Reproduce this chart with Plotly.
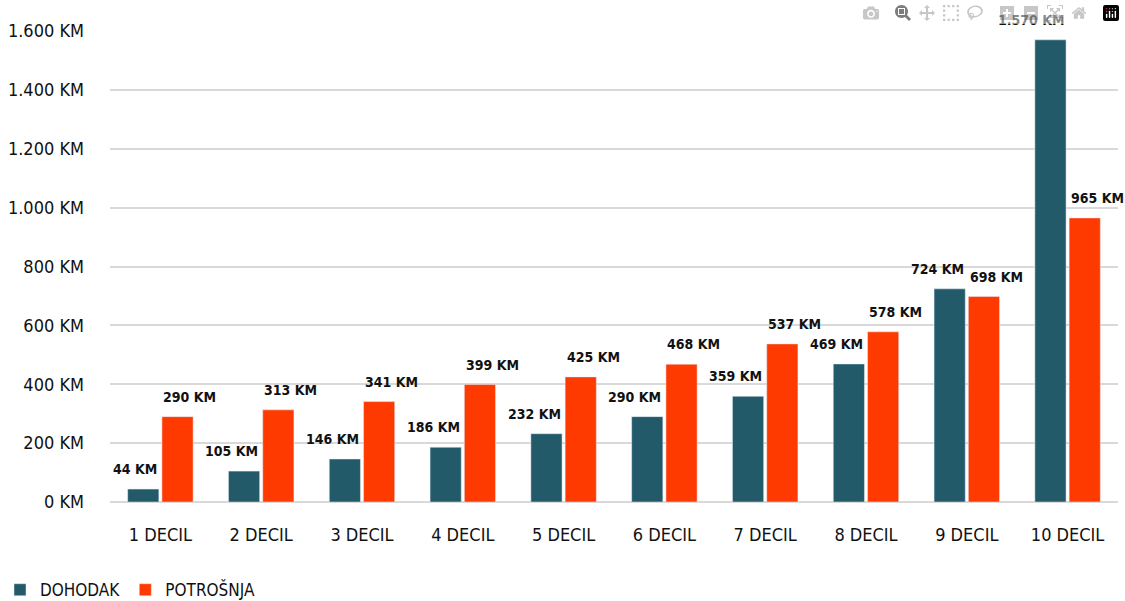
import plotly.graph_objects as go

categories = ["1 DECIL", "2 DECIL", "3 DECIL", "4 DECIL", "5 DECIL",
              "6 DECIL", "7 DECIL", "8 DECIL", "9 DECIL", "10 DECIL"]
dohodak = [44, 105, 146, 186, 232, 290, 359, 469, 724, 1570]
potrosnja = [290, 313, 341, 399, 425, 468, 537, 578, 698, 965]

FONT = "DejaVu Sans Condensed, DejaVu Sans, sans-serif"
TEAL = "#225a69"
ORANGE = "#ff3a00"


def fmt(v):
    return f"{v:,}".replace(",", ".") + " KM"


fig = go.Figure()
fig.add_trace(go.Bar(name="DOHODAK", x=categories, y=dohodak, marker_color=TEAL))
fig.add_trace(go.Bar(name="POTROŠNJA", x=categories, y=potrosnja, marker_color=ORANGE))

annotations = []
for c, v in zip(categories, dohodak):
    annotations.append(dict(x=c, y=v, xref="x", yref="y", text=f"<b>{fmt(v)}</b>",
                            showarrow=False, xanchor="right", yanchor="bottom",
                            xshift=-1, yshift=10,
                            font=dict(size=14, family=FONT, color="#111111")))
for c, v in zip(categories, potrosnja):
    annotations.append(dict(x=c, y=v, xref="x", yref="y", text=f"<b>{fmt(v)}</b>",
                            showarrow=False, xanchor="left", yanchor="bottom",
                            xshift=1, yshift=10,
                            font=dict(size=14, family=FONT, color="#111111")))

fig.update_layout(
    width=1125, height=601,
    margin=dict(l=110, r=7, t=31, b=99),
    paper_bgcolor="white", plot_bgcolor="white",
    separators=",.",
    barmode="group", bargap=0.32, bargroupgap=0.09,
    font=dict(family=FONT, size=18, color="#111111"),
    showlegend=True,
    legend=dict(orientation="h", xref="container", yref="container",
                x=0, y=0.018, xanchor="left", yanchor="middle",
                font=dict(size=17, family=FONT), itemwidth=30,
                traceorder="normal"),
    annotations=annotations,
)
fig.update_xaxes(range=[-0.5, len(categories) - 0.5], autorange=False,
                 showgrid=False, showline=False, ticks="", ticklabelstandoff=20,
                 automargin=False, tickfont=dict(size=18, family=FONT))
fig.update_yaxes(range=[0, 1600], autorange=False, dtick=200, tickformat=",.0f",
                 ticksuffix=" KM",
                 showgrid=True, gridcolor="#d9d9d9", gridwidth=2,
                 zeroline=True, zerolinecolor="#d9d9d9", zerolinewidth=2,
                 automargin=False,
                 ticklabelstandoff=25, tickfont=dict(size=18, family=FONT))

fig.write_html(
    "out.html",
    post_script="document.body.style.margin='0';document.body.style.overflow='hidden';",
)
